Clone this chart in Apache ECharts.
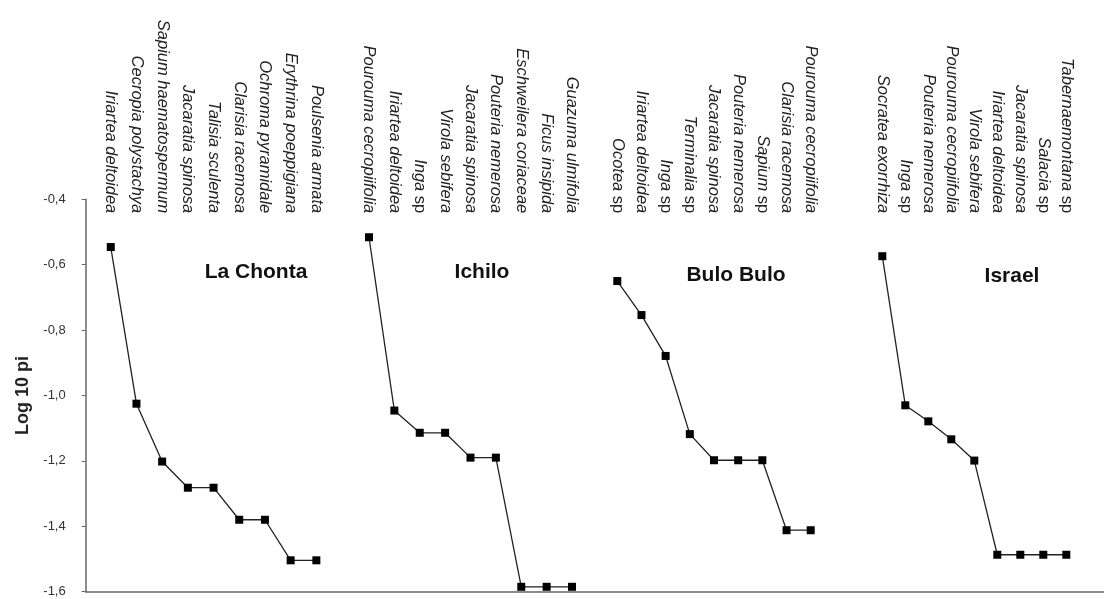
<!DOCTYPE html>
<html>
<head>
<meta charset="utf-8">
<script src="https://cdn.jsdelivr.net/npm/echarts@6/dist/echarts.min.js"></script>
<style>
html,body{margin:0;padding:0;background:#fff;}
#chart{width:1104px;height:599px;}
</style>
</head>
<body>
<div id="chart"></div>
<script>
// ---- data ----
const sites = ['La Chonta', 'Ichilo', 'Bulo Bulo', 'Israel'];

const laChontaSpecies = ['Iriartea deltoidea', 'Cecropia polystachya', 'Sapium haematospermum', 'Jacaratia spinosa', 'Talisia sculenta', 'Clarisia racemosa', 'Ochroma pyramidale', 'Erythrina poeppigiana', 'Poulsenia armata'];
const laChontaValues = [-0.546, -1.025, -1.202, -1.282, -1.282, -1.380, -1.380, -1.504, -1.504];

const ichiloSpecies = ['Pourouma cecropiifolia', 'Iriartea deltoidea', 'Inga sp', 'Virola sebifera', 'Jacaratia spinosa', 'Pouteria nemerosa', 'Eschweilera coriaceae', 'Ficus insipida', 'Guazuma ulmifolia'];
const ichiloValues = [-0.516, -1.046, -1.114, -1.114, -1.190, -1.190, -1.585, -1.585, -1.585];

const buloBuloSpecies = ['Ocotea sp', 'Iriartea deltoidea', 'Inga sp', 'Terminalia sp', 'Jacaratia spinosa', 'Pouteria nemerosa', 'Sapium sp', 'Clarisia racemosa', 'Pourouma cecropiifolia'];
const buloBuloValues = [-0.650, -0.754, -0.879, -1.118, -1.198, -1.198, -1.198, -1.412, -1.412];

const israelSpecies = ['Socratea exorrhiza', 'Inga sp', 'Pouteria nemerosa', 'Pourouma cecropiifolia', 'Virola sebifera', 'Iriartea deltoidea', 'Jacaratia spinosa', 'Salacia sp', 'Tabernaemontana sp'];
const israelValues = [-0.574, -1.030, -1.079, -1.134, -1.199, -1.487, -1.487, -1.487, -1.487];

const yTicks = [-1.6, -1.4, -1.2, -1.0, -0.8, -0.6, -0.4];
const yAxisTitle = 'Log 10 pi';

// ---- layout (pixels) ----
const FONT = 'Liberation Sans, Arial, Helvetica, sans-serif';
const plotTop = 199.3, plotBottom = 7.3, axisLeft = 85.7;
const siteGrids = [
  {left: 97.9, width: 231.3},
  {left: 356.3, width: 228.4},
  {left: 605.2, width: 217.6},
  {left: 870.8, width: 207.0}
];
const siteLabelPos = [[256, 272], [482, 272], [736, 275], [1012, 276]];

const groups = [
  {species: laChontaSpecies, values: laChontaValues},
  {species: ichiloSpecies, values: ichiloValues},
  {species: buloBuloSpecies, values: buloBuloValues},
  {species: israelSpecies, values: israelValues}
];

const grid = [{left: axisLeft, right: 0, top: plotTop, bottom: plotBottom}];
const xAxis = [{
  gridIndex: 0, type: 'value', min: 0, max: 1, position: 'bottom',
  axisLine: {show: true, lineStyle: {color: '#666', width: 1.5}},
  axisTick: {show: false}, axisLabel: {show: false}, splitLine: {show: false}
}];
const yAxis = [{
  gridIndex: 0, type: 'value', min: yTicks[0], max: yTicks[yTicks.length - 1], interval: 0.2,
  name: yAxisTitle, nameLocation: 'middle', nameGap: 54, nameRotate: 90,
  nameTextStyle: {fontFamily: FONT, fontSize: 18, fontWeight: 'bold', color: '#222'},
  axisLine: {show: true, lineStyle: {color: '#666', width: 1.5}},
  axisTick: {show: true, length: 4, lineStyle: {color: '#666'}},
  axisLabel: {
    fontFamily: FONT, fontSize: 13, color: '#333', margin: 20,
    formatter: v => (Math.round(v * 10) / 10).toFixed(1).replace('.', ',')
  },
  splitLine: {show: false}
}];
const series = [];

function labelFmt(name) {
  if (/ sp$/.test(name)) {
    return '{i|' + name.slice(0, -3) + '}{n| sp}';
  }
  return '{i|' + name + '}';
}

groups.forEach((g, k) => {
  const gi = k + 1;
  grid.push({left: siteGrids[k].left, width: siteGrids[k].width, top: plotTop, bottom: plotBottom});
  xAxis.push({
    gridIndex: gi, type: 'category', data: g.species, position: 'top', boundaryGap: true,
    axisLine: {show: false}, axisTick: {show: false}, splitLine: {show: false},
    axisLabel: {
      interval: 0, rotate: 90, margin: -14, color: '#222',
      formatter: labelFmt,
      rich: {
        i: {fontFamily: FONT, fontSize: 16.5, fontStyle: 'italic', color: '#222'},
        n: {fontFamily: FONT, fontSize: 16.5, fontStyle: 'normal', color: '#222'}
      }
    }
  });
  yAxis.push({
    gridIndex: gi, type: 'value', min: yTicks[0], max: yTicks[yTicks.length - 1], show: false
  });
  series.push({
    type: 'line', xAxisIndex: gi, yAxisIndex: gi, data: g.values,
    symbol: 'rect', symbolSize: 8, showSymbol: true,
    lineStyle: {color: '#222', width: 1.3},
    itemStyle: {color: '#000', borderWidth: 0},
    animation: false, silent: true
  });
});

const graphic = sites.map((s, k) => ({
  type: 'text', x: siteLabelPos[k][0], y: siteLabelPos[k][1],
  style: {text: s, fontFamily: FONT, fontSize: 21, fontWeight: 'bold', fill: '#111',
          textAlign: 'center', textVerticalAlign: 'middle'}
}));

const chart = echarts.init(document.getElementById('chart'));
chart.setOption({
  animation: false,
  backgroundColor: '#fff',
  grid, xAxis, yAxis, series, graphic
});
</script>
</body>
</html>
